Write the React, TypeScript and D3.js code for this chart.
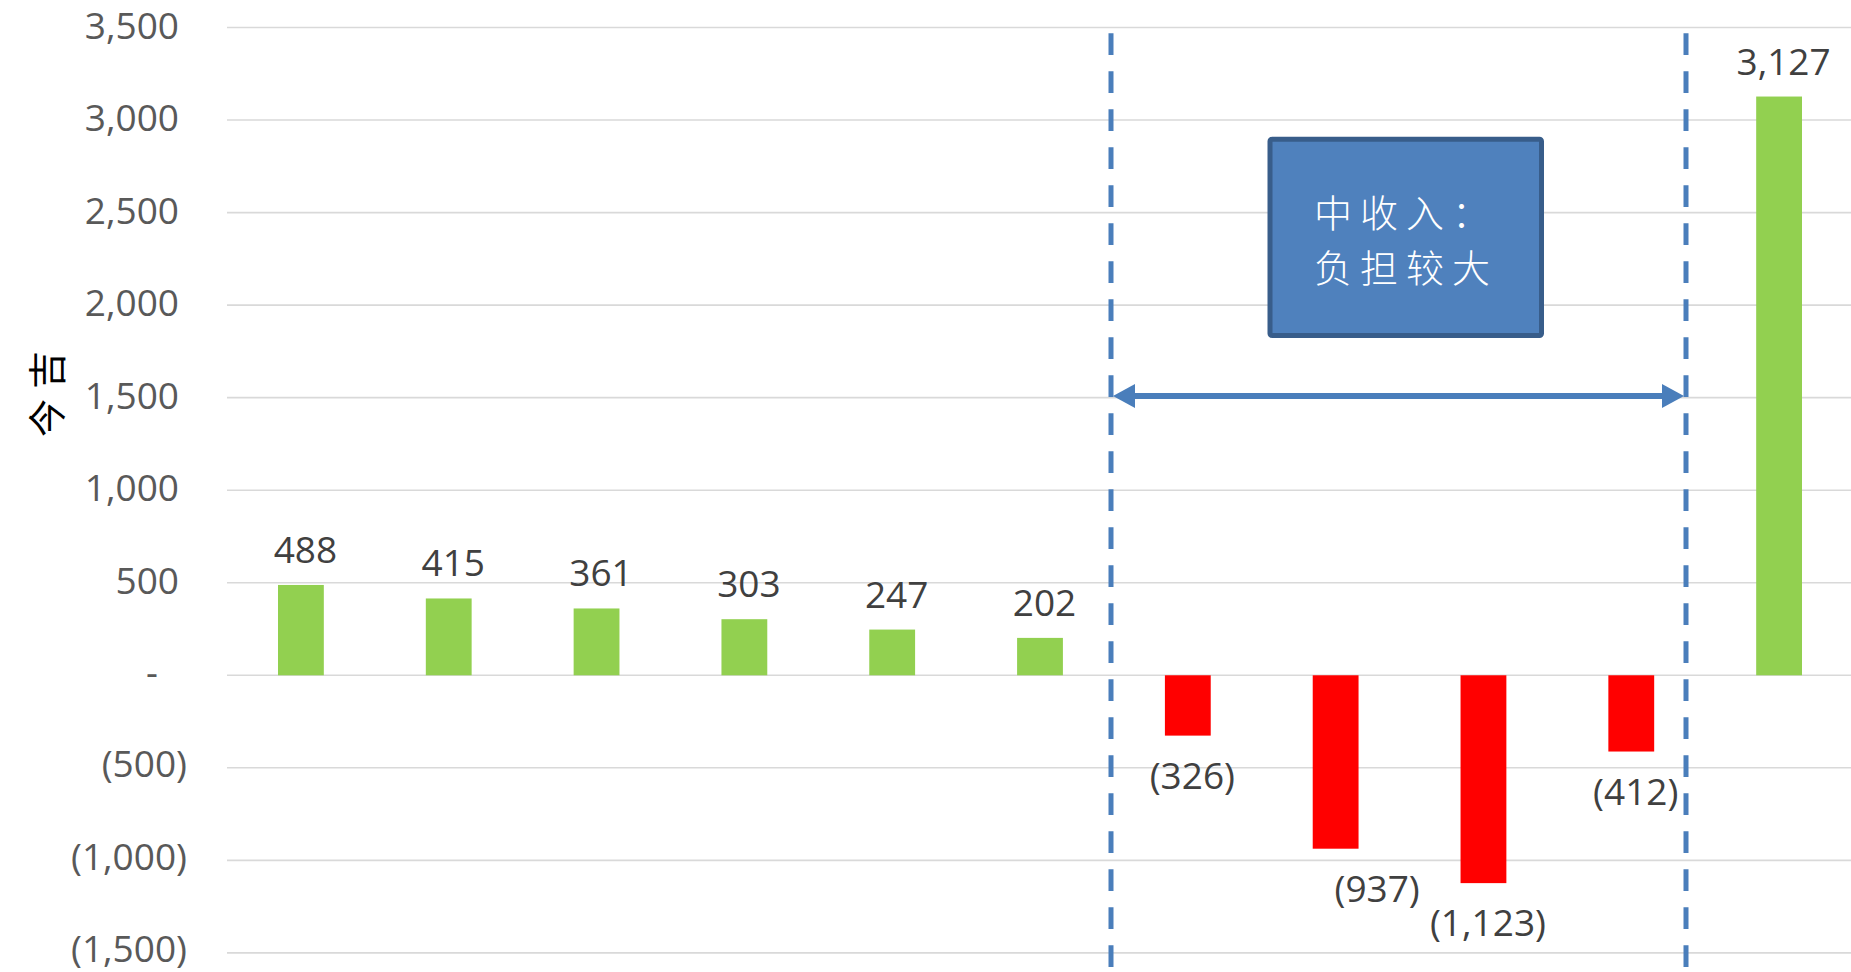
import React from "react";
import * as d3 from "d3";

const categories = ["G1", "G2", "G3", "G4", "G5", "G6", "G7", "G8", "G9", "G10", "G11"];
const values = [488, 415, 361, 303, 247, 202, -326, -937, -1123, -412, 3127];
const yTicks = [3500, 3000, 2500, 2000, 1500, 1000, 500, 0, -500, -1000, -1500];
const axisTitle = "今吉";
const boxLines = ["中收入：", "负担较大"];

const W = 1851;
const H = 972;
const FONT = "'Open Sans', 'Noto Sans', sans-serif";
const CJK = "'Noto Sans CJK SC', 'Noto Sans', sans-serif";

const fmtNum = d3.format(",");
const fmt = (v: number) => (v === 0 ? "-" : v < 0 ? `(${fmtNum(-v)})` : fmtNum(v));

export default function App() {
  const x = d3.scaleBand<string>().domain(categories).range([227, 1853]).paddingInner(0.69).paddingOuter(0.345);
  const y = d3.scaleLinear().domain([-1500, 3500]).range([952.9, 27.5]);

  // label nudges (the reference moved one label sideways)
  const labelShift: Record<string, number> = { G8: 37 };

  const leftDash = 1111;
  const rightDash = 1686;
  const arrowY = 396;
  const headL = 22;
  const headH = 12;

  return (
    <svg
      width={W}
      height={H}
      style={{ position: "absolute", left: 0, top: 0, display: "block", background: "#fff" }}
    >
      {yTicks.map((t) => (
        <line key={"g" + t} x1={227} x2={W} y1={y(t)} y2={y(t)} stroke="#d9d9d9" strokeWidth={1.6} />
      ))}
      {yTicks.map((t) => (
        <text
          key={"t" + t}
          x={t === 0 ? 152 : t < 0 ? 187 : 179}
          y={y(t) + (t < 0 ? 9.5 : 11)}
          textAnchor={t === 0 ? "middle" : "end"}
          fontFamily={FONT}
          fontSize={37}
          fill="#595959"
        >
          {fmt(t)}
        </text>
      ))}
      <text
        transform={`translate(44,${394}) rotate(-90)`}
        textAnchor="middle"
        dominantBaseline="central"
        fontFamily={CJK}
        fontSize={38}
        letterSpacing={10}
        dx={5}
        fill="#000"
      >
        {axisTitle}
      </text>
      {values.map((v, i) => (
        <rect
          key={"b" + i}
          x={x(categories[i])}
          width={x.bandwidth()}
          y={y(Math.max(0, v))}
          height={Math.abs(y(v) - y(0))}
          fill={v >= 0 ? "#92d050" : "#ff0000"}
        />
      ))}
      {values.map((v, i) => (
        <text
          key={"l" + i}
          x={(x(categories[i]) as number) + x.bandwidth() / 2 + 4.5 + (labelShift[categories[i]] || 0)}
          y={v >= 0 ? y(v) - 22 : y(v) + 53}
          textAnchor="middle"
          fontFamily={FONT}
          fontSize={37}
          fill="#404040"
        >
          {fmt(v)}
        </text>
      ))}
      {[leftDash, rightDash].map((dx) => (
        <line
          key={"d" + dx}
          x1={dx}
          x2={dx}
          y1={33.3}
          y2={H}
          stroke="#4a7ebb"
          strokeWidth={5}
          strokeDasharray="21.7 16.3"
        />
      ))}
      <line x1={leftDash + headL} x2={rightDash - headL} y1={arrowY} y2={arrowY} stroke="#4a7ebb" strokeWidth={6} />
      <path
        d={`M${leftDash + 2},${arrowY} L${leftDash + 2 + headL},${arrowY - headH} L${leftDash + 2 + headL},${arrowY + headH} Z`}
        fill="#4a7ebb"
      />
      <path
        d={`M${rightDash - 2},${arrowY} L${rightDash - 2 - headL},${arrowY - headH} L${rightDash - 2 - headL},${arrowY + headH} Z`}
        fill="#4a7ebb"
      />
      <rect x={1270} y={139.2} width={271.5} height={196.3} rx={2} fill="#4f81bd" stroke="#385d8a" strokeWidth={5} />
      {boxLines.map((s, i) => (
        <text
          key={"bx" + i}
          x={1314}
          y={210 + i * 55.5}
          dominantBaseline="central"
          fontFamily={CJK}
          fontWeight={300}
          fontSize={38}
          letterSpacing={8}
          fill="#fff"
        >
          {s}
        </text>
      ))}
    </svg>
  );
}
